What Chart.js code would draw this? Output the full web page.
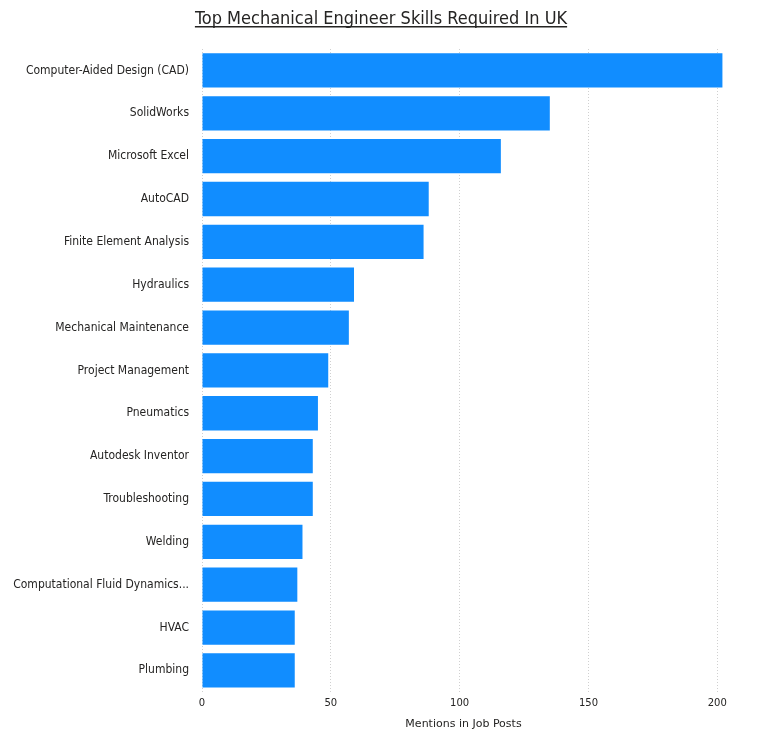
<!DOCTYPE html>
<html><head><meta charset="utf-8">
<script src="https://cdn.jsdelivr.net/npm/chart.js@4"></script>
<style>html,body{margin:0;background:#fff}#wrap{width:784px;height:741px}</style>
</head><body><div id="wrap"><canvas id="c"></canvas></div>
<script>
'use strict';

const skills = ['Computer-Aided Design (CAD)', 'SolidWorks', 'Microsoft Excel', 'AutoCAD',
  'Finite Element Analysis', 'Hydraulics', 'Mechanical Maintenance', 'Project Management',
  'Pneumatics', 'Autodesk Inventor', 'Troubleshooting', 'Welding',
  'Computational Fluid Dynamics...', 'HVAC', 'Plumbing'];
const mentions = [202, 135, 116, 88, 86, 59, 57, 49, 45, 43, 43, 39, 37, 36, 36];
const xTicks = [0, 50, 100, 150, 200];
const TITLE = 'Top Mechanical Engineer Skills Required In UK';

// underlined title, drawn by hand
const titlePlugin = {
  id: 'underlinedTitle',
  afterDraw(chart) {
    const ctx = chart.ctx;
    ctx.save();
    ctx.font = '18px "DejaVu Sans Condensed", "DejaVu Sans", sans-serif';
    ctx.fillStyle = '#252423';
    ctx.textAlign = 'center';
    ctx.textBaseline = 'alphabetic';
    const x = 381, y = 24;
    ctx.fillText(TITLE, x, y);
    const w = ctx.measureText(TITLE).width;
    ctx.fillRect(x - w / 2, y + 2, w, 1.5);
    ctx.restore();
  }
};

new Chart(document.getElementById('c'), {
  type: 'bar',
  data: {
    labels: skills,
    datasets: [{ data: mentions, backgroundColor: '#118DFF', barPercentage: 0.8, categoryPercentage: 1 }]
  },
  options: {
    indexAxis: 'y',
    responsive: true,
    maintainAspectRatio: false,
    animation: false,
    layout: { padding: { top: 49, right: 59, bottom: 6, left: 0 } },
    plugins: { legend: { display: false }, tooltip: { enabled: false } },
    scales: {
      x: {
        min: 0, max: 203,
        afterBuildTicks(axis) { axis.ticks = xTicks.map(v => ({ value: v })); },
        ticks: { color: '#252423', font: { size: 10, family: '"DejaVu Sans", sans-serif' }, padding: 6 },
        grid: { color: '#d0d0d0', lineWidth: 1, drawTicks: false },
        border: { display: false, dash: [1, 2] },
        title: { display: true, text: 'Mentions in Job Posts', color: '#252423',
          font: { size: 11, family: '"DejaVu Sans", sans-serif' }, padding: { top: 2 } }
      },
      y: {
        afterFit(axis) { axis.width = 202; },
        ticks: { color: '#252423', font: { size: 12, family: '"DejaVu Sans Condensed", "DejaVu Sans", sans-serif' }, padding: 5 },
        grid: { display: false },
        border: { display: false }
      }
    }
  },
  plugins: [titlePlugin]
});
</script></body></html>
